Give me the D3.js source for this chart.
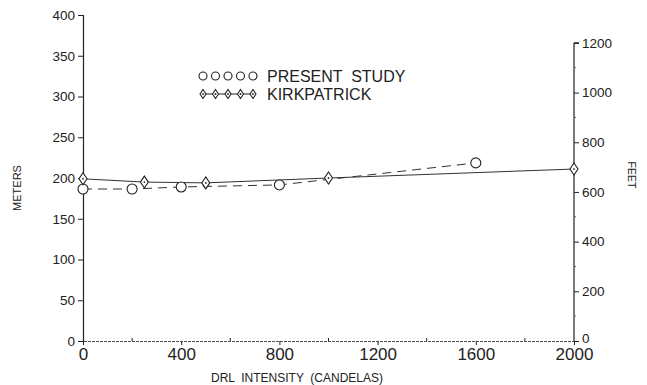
<!DOCTYPE html>
<html>
<head>
<meta charset="utf-8">
<script src="https://cdn.jsdelivr.net/npm/d3@7"></script>
<style>
  html, body { margin: 0; padding: 0; background: #fff; }
  svg { display: block; font-family: "Liberation Sans", Arial, sans-serif; }
</style>
</head>
<body>
<svg id="chart" width="647" height="385"></svg>
<script>
// ---- data ----
const xTicks = [0, 400, 800, 1200, 1600, 2000];
const xMinorTicks = [200, 600, 1000, 1400, 1800];
const meterTicks = [0, 50, 100, 150, 200, 250, 300, 350, 400];
const feetTicks = [0, 200, 400, 600, 800, 1000, 1200];
const feetMinorTicks = [100, 300, 500, 700, 900, 1100];

const presentX = [0, 200, 400, 800, 1600];
const presentY = [186.5, 186.5, 189, 191.5, 218.5];
const kirkX = [0, 250, 500, 1000, 2000];
const kirkY = [199, 195, 194, 200, 211];

const seriesNames = ["PRESENT  STUDY", "KIRKPATRICK"];
const FT = 0.3048;

// ---- layout ----
const svg = d3.select("#chart");
const ink = "#222";
const fmt = d3.format("d");
const x = d3.scaleLinear().domain([0, 2000]).range([83, 574]);
const y = d3.scaleLinear().domain([0, 400]).range([341, 15]);
const yFt = d3.scaleLinear().domain([0, 1200]).range([y(0), y(1200 * FT)]);

// left axis
const left = svg.append("g").attr("transform", `translate(${x(0)},0)`)
  .call(d3.axisLeft(y).tickValues(meterTicks).tickFormat(fmt).tickSize(5).tickPadding(3));
left.select(".domain").attr("stroke", ink).attr("stroke-width", 1.2);
left.selectAll(".tick line").attr("stroke", ink);
left.selectAll(".tick text").attr("font-size", 13.5).attr("fill", ink)
  .attr("font-family", "Liberation Sans, Arial, sans-serif");

// right axis (feet)
const right = svg.append("g").attr("transform", `translate(${x(2000)},0)`)
  .call(d3.axisRight(yFt).tickValues(feetTicks).tickFormat(fmt).tickSize(5).tickPadding(3));
right.select(".domain").attr("stroke", ink).attr("stroke-width", 1.2)
  .attr("d", `M0,${yFt(1200)}H5M0,${yFt(1200)}V${yFt(0)}`);
right.selectAll(".tick line").attr("stroke", ink);
right.selectAll(".tick text").attr("font-size", 13.5).attr("fill", ink)
  .attr("font-family", "Liberation Sans, Arial, sans-serif")
  .attr("dy", (d) => d === 0 ? "0.1em" : "0.32em");
svg.append("g").selectAll("line").data(feetMinorTicks).join("line")
  .attr("x1", x(2000)).attr("x2", x(2000) + 2)
  .attr("y1", d => yFt(d)).attr("y2", d => yFt(d))
  .attr("stroke", "#666");

// bottom axis
const bottom = svg.append("g").attr("transform", `translate(0,${y(0)})`)
  .call(d3.axisBottom(x).tickValues(xTicks).tickFormat(fmt).tickSize(4).tickPadding(3));
bottom.select(".domain").attr("stroke", "#555").attr("stroke-width", 1)
  .attr("stroke-dasharray", "3,1");
bottom.selectAll(".tick line").attr("stroke", ink);
bottom.selectAll(".tick text").attr("font-size", 17).attr("fill", ink)
  .attr("font-family", "Liberation Sans, Arial, sans-serif");
svg.append("g").selectAll("line").data(xMinorTicks).join("line")
  .attr("x1", d => x(d)).attr("x2", d => x(d))
  .attr("y1", y(0)).attr("y2", y(0) - 3)
  .attr("stroke", ink);

// axis titles
svg.append("text").attr("x", 297).attr("y", 382).attr("text-anchor", "middle")
  .attr("font-size", 12).attr("fill", ink).attr("xml:space", "preserve")
  .text("DRL  INTENSITY  (CANDELAS)");
svg.append("text").attr("transform", "translate(21,188) rotate(-90)")
  .attr("text-anchor", "middle").attr("font-size", 11).attr("fill", ink)
  .text("METERS");
svg.append("text").attr("transform", "translate(628,175) rotate(90)")
  .attr("text-anchor", "middle").attr("font-size", 10.5).attr("fill", ink)
  .text("FEET");

// lines
const line = d3.line().x(d => x(d[0])).y(d => y(d[1]));
const presentPts = presentX.map((v, i) => [v, presentY[i]]);
const kirkPts = kirkX.map((v, i) => [v, kirkY[i]]);

svg.append("path").attr("d", line(kirkPts)).attr("fill", "none")
  .attr("stroke", "#333").attr("stroke-width", 1);
svg.append("path").attr("d", line(presentPts)).attr("fill", "none")
  .attr("stroke", "#333").attr("stroke-width", 1).attr("stroke-dasharray", "9,6");

function diamond(g, cx, cy, h, w) {
  g.append("path")
    .attr("d", `M${cx},${cy - h}L${cx + w},${cy}L${cx},${cy + h}L${cx - w},${cy}Z`)
    .attr("fill", "#fff").attr("stroke", ink).attr("stroke-width", 1.1);
  g.append("circle").attr("cx", cx).attr("cy", cy).attr("r", 0.9).attr("fill", ink);
}
function ring(g, cx, cy, r) {
  g.append("circle").attr("cx", cx).attr("cy", cy).attr("r", r)
    .attr("fill", "#fff").attr("stroke", ink).attr("stroke-width", 1.1);
}

const marks = svg.append("g");
presentPts.forEach(p => ring(marks, x(p[0]), y(p[1]), 5));
kirkPts.forEach(p => diamond(marks, x(p[0]), y(p[1]), 6, 4));

// legend
const leg = svg.append("g");
const legX = d3.range(5).map(i => 203 + i * 12.5);
legX.forEach(cx => ring(leg, cx, 76, 4));
leg.append("line").attr("x1", legX[0]).attr("x2", legX[4]).attr("y1", 94).attr("y2", 94)
  .attr("stroke", ink);
legX.forEach(cx => diamond(leg, cx, 94, 4.5, 3));
leg.append("text").attr("x", 267).attr("y", 82).attr("font-size", 16).attr("fill", ink)
  .attr("xml:space", "preserve").text(seriesNames[0]);
leg.append("text").attr("x", 267).attr("y", 100).attr("font-size", 16).attr("fill", ink)
  .text(seriesNames[1]);
</script>
</body>
</html>
